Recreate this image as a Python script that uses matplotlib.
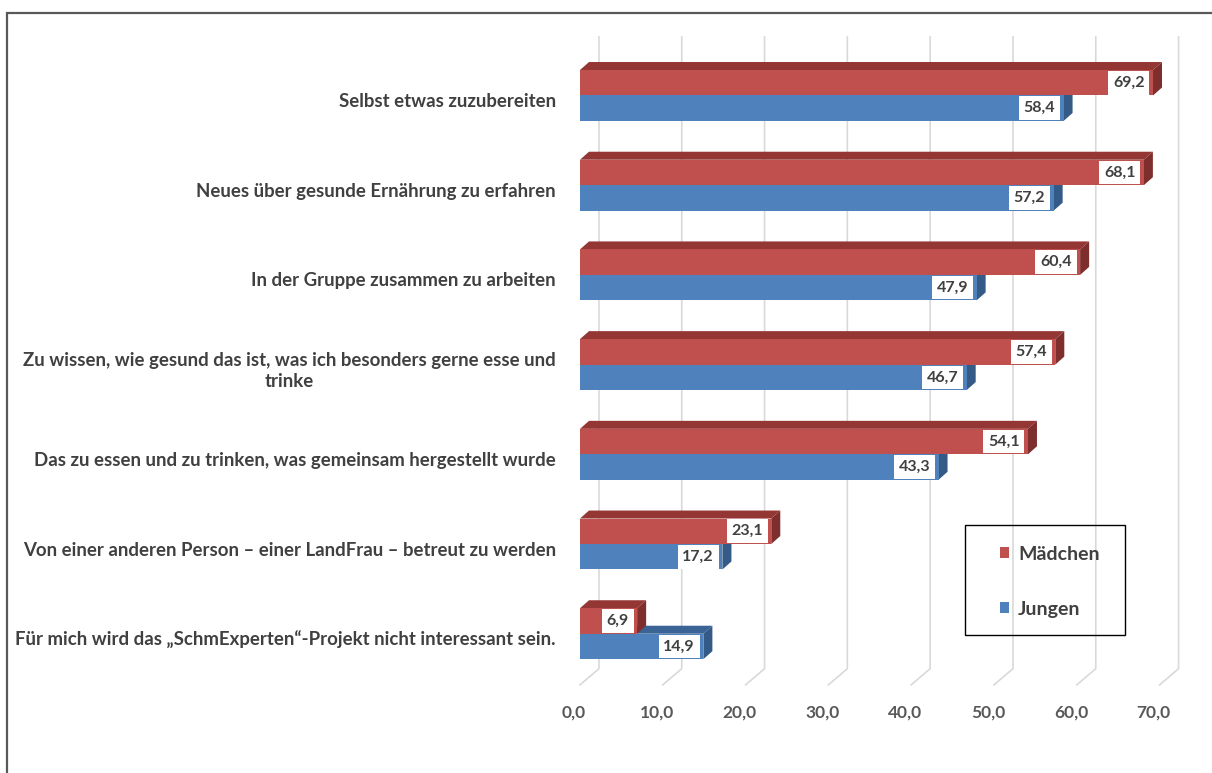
import matplotlib
matplotlib.use("Agg")
import matplotlib.pyplot as plt
from matplotlib.patches import Polygon, Rectangle, Patch

plt.rcParams['font.family'] = ['Lato', 'DejaVu Sans']

# data
categories = [
    "Selbst etwas zuzubereiten",
    "Neues über gesunde Ernährung zu erfahren",
    "In der Gruppe zusammen zu arbeiten",
    "Zu wissen, wie gesund das ist, was ich besonders gerne esse und\ntrinke",
    "Das zu essen und zu trinken, was gemeinsam hergestellt wurde",
    "Von einer anderen Person – einer LandFrau – betreut zu werden",
    "Für mich wird das „SchmExperten“-Projekt nicht interessant sein.",
]
maedchen = [69.2, 68.1, 60.4, 57.4, 54.1, 23.1, 6.9]
jungen = [58.4, 57.2, 47.9, 46.7, 43.3, 17.2, 14.9]
xticks = [0, 10, 20, 30, 40, 50, 60, 70]
series_names = ["Mädchen", "Jungen"]

RED, RED_TOP, RED_SIDE = "#C0504D", "#943634", "#7E2F2D"
BLUE, BLUE_TOP, BLUE_SIDE = "#4F81BD", "#3B6496", "#345A88"
TXT = "#404040"

W, H = 1212, 773
fig = plt.figure(figsize=(W / 100, H / 100), dpi=100)

# outer chart frame (partly cut off on right / bottom)
fig.patches.append(Rectangle((7 / W, -0.05), 1.1, 1 - 13 / H + 0.05,
                             transform=fig.transFigure, fill=False,
                             edgecolor="#595959", linewidth=1.6))

ax = fig.add_axes([571.7 / W, 1 - 700 / H, (1201 - 571.7) / W, 670 / H])
ax.set_xlim(-1, 75)
ax.set_ylim(6.739, -0.730)
ax.axis("off")

bh = 0.284          # bar height
ddx, ddy = 1.09, 0.089   # bar depth
wdx = 2.29          # back wall offset
y_top, y_back, y_front = -0.652, 6.39, 6.57

# gridlines on back wall + floor
for v in xticks:
    ax.plot([v + wdx, v + wdx, v], [y_top, y_back, y_front],
            color="#D9D9D9", linewidth=1.2, zorder=0, clip_on=False)
    ax.text(v - 0.7, 6.873, f"{v:.1f}".replace(".", ","), ha="center",
            va="center", fontsize=12.5, fontweight="bold", color="#595959",
            clip_on=False)


def bar3d(y0, val, front, top, side):
    y1 = y0 + bh
    ax.add_patch(Polygon([(0, y0), (val, y0), (val + ddx, y0 - ddy), (ddx, y0 - ddy)],
                         closed=True, facecolor=top, edgecolor="none", zorder=2))
    ax.add_patch(Polygon([(val, y0), (val, y1), (val + ddx, y1 - ddy), (val + ddx, y0 - ddy)],
                         closed=True, facecolor=side, edgecolor="none", zorder=2))
    ax.barh(y0 + bh / 2, val, height=bh, left=0, color=front, zorder=3)
    ax.annotate(f"{val:.1f}".replace(".", ","), (val, y0 + bh / 2),
                xytext=(-6, 0), textcoords="offset points", ha="right",
                va="center", fontsize=11.5, fontweight="bold", color=TXT, zorder=6,
                bbox=dict(boxstyle="square,pad=0.3", facecolor="white",
                          edgecolor="none"))


for i, cat in enumerate(categories):
    # blue first, red drawn over it
    bar3d(i, jungen[i], BLUE, BLUE_TOP, BLUE_SIDE)
    bar3d(i - bh, maedchen[i], RED, RED_TOP, RED_SIDE)
    ax.text(-2.9, i + 0.067, cat, ha="right", va="center", multialignment="center",
            fontsize=13.4, fontweight="bold", color=TXT, linespacing=1.3,
            clip_on=False)

# legend box
fig.patches.append(Rectangle((965 / W, 1 - 635 / H), 160 / W, 110 / H,
                             transform=fig.transFigure, fill=False,
                             edgecolor="black", linewidth=1.0))
handles = [Patch(facecolor=RED), Patch(facecolor=BLUE)]
fig.legend(handles, series_names, loc="upper left",
           bbox_to_anchor=(990 / W, 1 - 536 / H), frameon=False,
           handlelength=0.5, handleheight=0.5, handletextpad=0.45,
           labelspacing=1.95, borderpad=0, prop={"weight": "bold", "size": 14},
           labelcolor=TXT)

fig.savefig("out.png", dpi=100)
